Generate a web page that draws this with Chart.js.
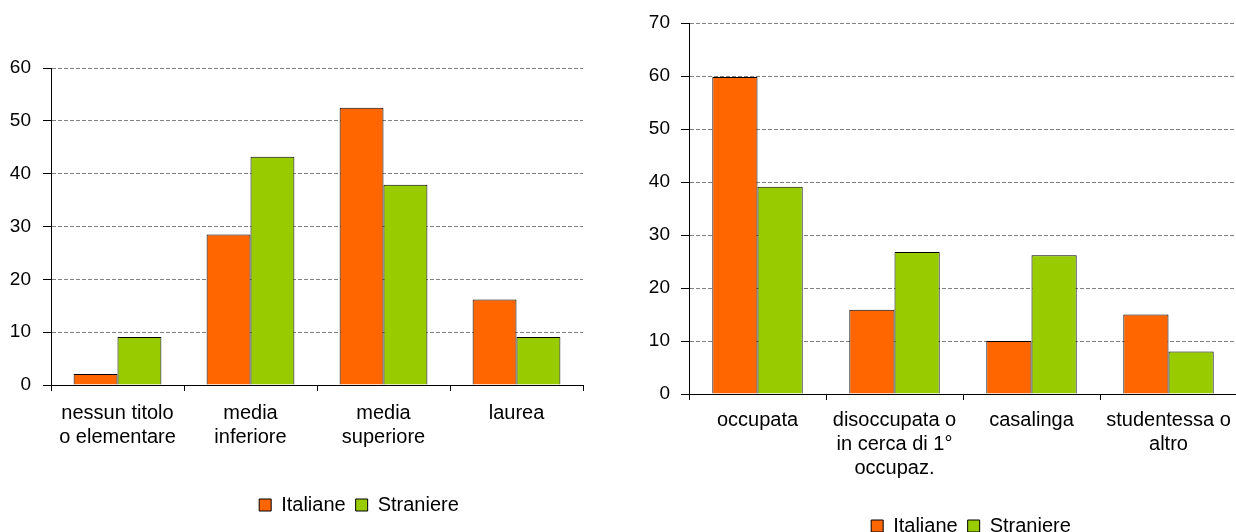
<!DOCTYPE html>
<html>
<head>
<meta charset="utf-8">
<script src="https://cdn.jsdelivr.net/npm/chart.js@4"></script>
<style>
  html, body { margin: 0; padding: 0; background: #fff; overflow: hidden; width: 1236px; height: 532px; }
  canvas { position: absolute; top: 0; }
  #chartIstruzione { left: 0; }
  #chartCondizione { left: 620px; }
</style>
</head>
<body>
<canvas id="chartIstruzione" width="718" height="560"></canvas>
<canvas id="chartCondizione" width="702" height="560"></canvas>
<script>
// titolo di studio
const catIstruzione = [['nessun titolo', 'o elementare'], ['media', 'inferiore'], ['media', 'superiore'], ['laurea']];
const italianeIstruzione = [2.1, 28.5, 52.5, 16.2];
const straniereIstruzione = [9.1, 43.2, 37.9, 9.1];
const maxIstruzione = 60;

// condizione professionale
const catCondizione = [['occupata'], ['disoccupata o', 'in cerca di 1°', 'occupaz.'], ['casalinga'], ['studentessa o', 'altro']];
const italianeCondizione = [59.8, 15.9, 10.0, 15.0];
const straniereCondizione = [39.1, 26.8, 26.2, 8.0];
const maxCondizione = 70;

const seriesNames = ['Italiane', 'Straniere'];
const orange = '#FF6600';
const green = '#99CC00';

Chart.defaults.font.family = '"Liberation Sans", Arial, sans-serif';
Chart.defaults.font.size = 20;
Chart.defaults.color = '#000';

function makeChart(id, labels, ita, stra, yMax, lay) {
  var canvas = document.getElementById(id);
  return new Chart(canvas, {
    type: 'bar',
    data: {
      labels: labels,
      datasets: [{
        label: seriesNames[0],
        data: ita,
        backgroundColor: orange,
        borderColor: '#000',
        borderWidth: 1
      }, {
        label: seriesNames[1],
        data: stra,
        backgroundColor: green,
        borderColor: '#000',
        borderWidth: 1
      }]
    },
    options: {
      responsive: false,
      animation: false,
      categoryPercentage: 0.66,
      barPercentage: 1.0,
      layout: { padding: { top: lay.top, left: 0, right: 0, bottom: lay.bottom } },
      plugins: {
        legend: {
          position: 'bottom',
          labels: { boxWidth: 12, boxHeight: 12, padding: 10, color: '#000' }
        },
        tooltip: { enabled: false }
      },
      scales: {
        x: {
          grid: { display: true, drawOnChartArea: false, color: '#000', tickLength: 6, offset: true },
          border: { color: '#000', width: 1 },
          ticks: { padding: lay.xpad, maxRotation: 0, autoSkip: false, font: { lineHeight: 1.2 } },
          afterFit: function(scale) { scale.height = lay.xh; }
        },
        y: {
          min: 0,
          max: yMax,
          ticks: { stepSize: 10, padding: lay.ypad, font: { size: 19 } },
          grid: { color: '#808080', tickColor: '#000', tickBorderDash: [], tickLength: 8 },
          border: { color: '#000', width: 1, dash: [4, 2] },
          afterFit: function(scale) { scale.width = lay.yw; }
        },
        // empty axis that only reserves room on the right
        spacer: {
          position: 'right',
          display: true,
          ticks: { display: false },
          grid: { display: false },
          border: { display: false },
          afterFit: function(scale) { scale.width = lay.right; }
        }
      }
    }
  });
}

makeChart('chartIstruzione', catIstruzione, italianeIstruzione, straniereIstruzione, maxIstruzione,
  { top: 68, bottom: 35, xh: 100, xpad: 10, yw: 51, ypad: 12, right: 135 });
makeChart('chartCondizione', catCondizione, italianeCondizione, straniereCondizione, maxCondizione,
  { top: 23, bottom: 14, xh: 112, xpad: 8, yw: 69, ypad: 11, right: 85 });
</script>
</body>
</html>
